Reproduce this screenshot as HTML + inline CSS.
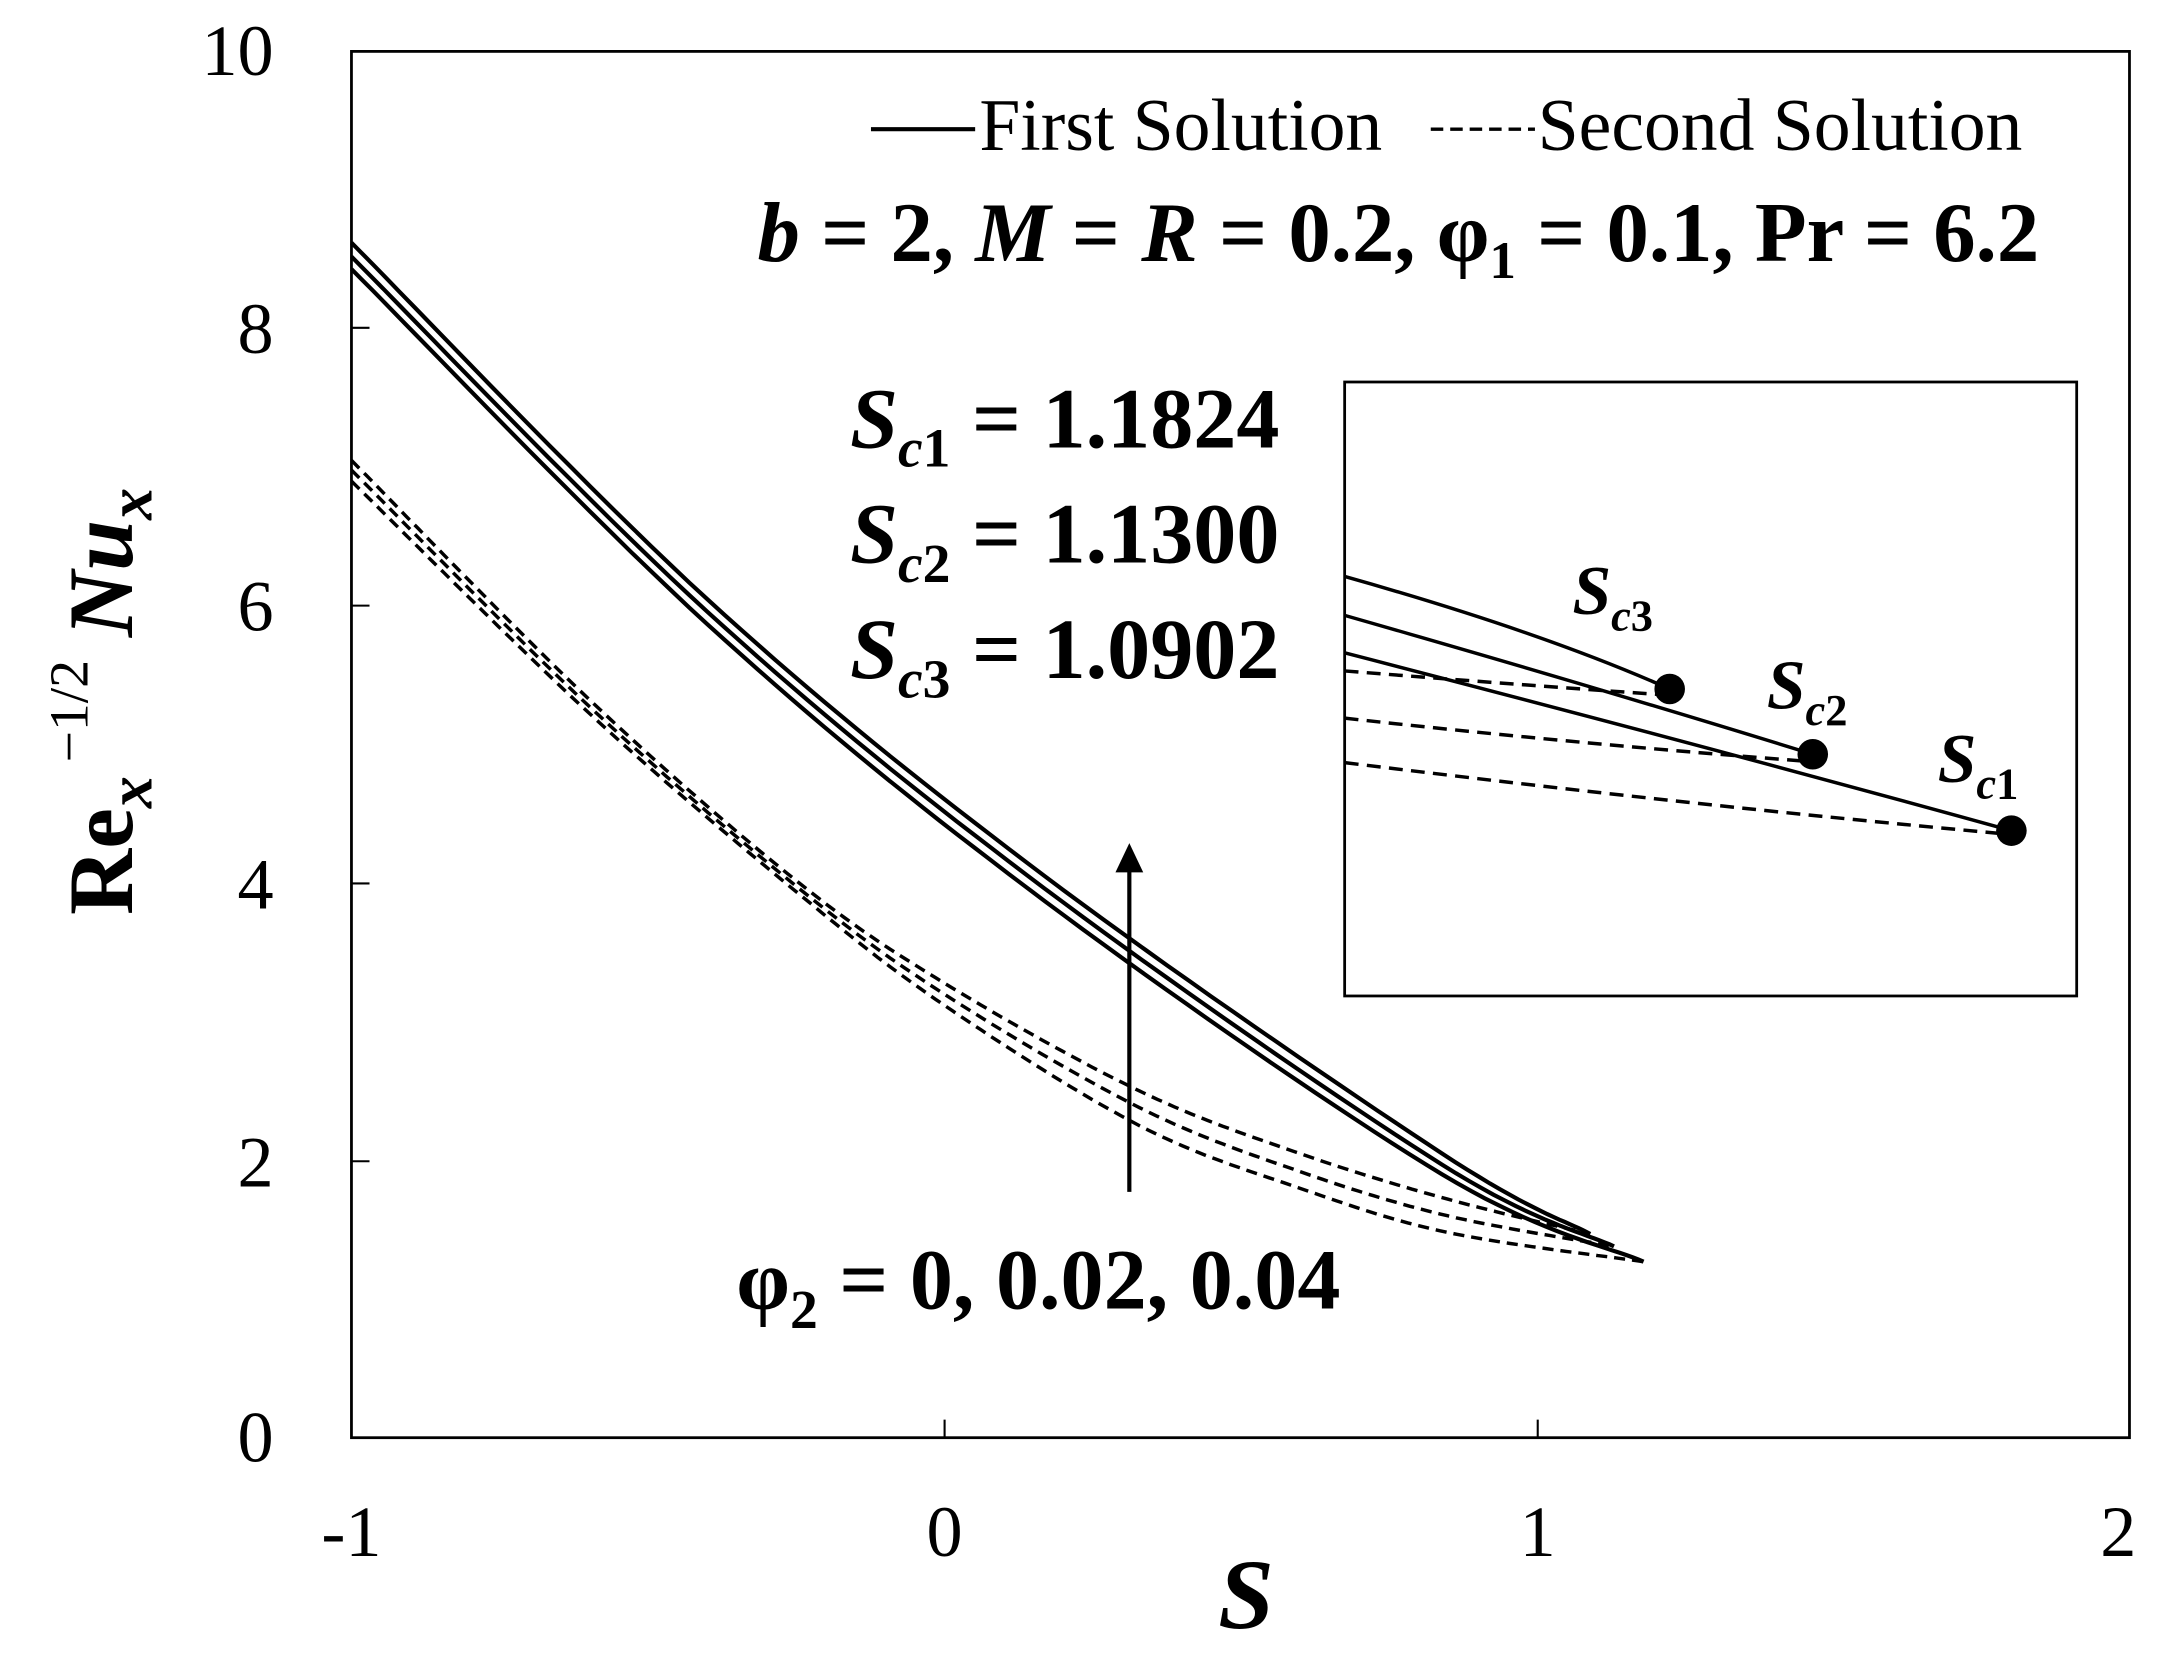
<!DOCTYPE html>
<html><head><meta charset="utf-8"><style>
html,body{margin:0;padding:0;background:#fff}
svg{display:block}
text{font-family:"Liberation Serif",serif;fill:#000}
</style></head><body>
<svg id="s" width="2167" height="1653" viewBox="0 0 1560 1190" xmlns="http://www.w3.org/2000/svg">
<rect x="0" y="0" width="1560" height="1190" fill="#fff"/>
<rect x="253" y="37" width="1280" height="998" fill="none" stroke="#000" stroke-width="2"/>
<g stroke="#000" stroke-width="1.5">
<line x1="680" y1="1035" x2="680" y2="1022"/><line x1="1107" y1="1035" x2="1107" y2="1022"/>
<line x1="253" y1="236" x2="266" y2="236"/><line x1="253" y1="436" x2="266" y2="436"/>
<line x1="253" y1="636" x2="266" y2="636"/><line x1="253" y1="836" x2="266" y2="836"/>
</g>
<g font-size="52" text-anchor="end">
<text x="197" y="54">10</text><text x="197" y="254">8</text><text x="197" y="454">6</text>
<text x="197" y="654">4</text><text x="197" y="854">2</text><text x="197" y="1052">0</text>
</g>
<g font-size="52" text-anchor="middle">
<text x="253" y="1120">-1</text><text x="680" y="1120">0</text><text x="1107" y="1120">1</text><text x="1525" y="1120">2</text>
</g>
<text x="897" y="1172" font-size="72" font-weight="bold" font-style="italic" text-anchor="middle">S</text>
<text transform="translate(95,505) rotate(-90)" font-size="66" font-weight="bold" text-anchor="middle">Re<tspan font-style="italic" font-size="46" dy="14">x</tspan><tspan font-size="40" font-weight="normal" dy="-46"> −1/2</tspan><tspan dy="32" font-style="italic"> Nu</tspan><tspan font-style="italic" font-size="46" dy="14">x</tspan></text>
<line x1="627" y1="93" x2="702" y2="93" stroke="#000" stroke-width="3"/>
<text x="705" y="108" font-size="53">First Solution</text>
<line x1="1030" y1="93" x2="1105" y2="93" stroke="#000" stroke-width="2.5" stroke-dasharray="9,5"/>
<text x="1107" y="108" font-size="53">Second Solution</text>
<text x="1468" y="188" font-size="61" font-weight="bold" text-anchor="end"><tspan font-style="italic">b</tspan> = 2, <tspan font-style="italic">M</tspan> = <tspan font-style="italic">R</tspan> = 0.2, φ<tspan font-size="38" dy="12">1</tspan><tspan dy="-12"> = 0.1, Pr = 6.2</tspan></text>
<g font-size="62" font-weight="bold">
<text x="612" y="322"><tspan font-style="italic">S</tspan><tspan font-style="italic" font-size="40" dy="14">c</tspan><tspan font-size="40">1</tspan><tspan dy="-14"> = 1.1824</tspan></text>
<text x="612" y="405"><tspan font-style="italic">S</tspan><tspan font-style="italic" font-size="40" dy="14">c</tspan><tspan font-size="40">2</tspan><tspan dy="-14"> = 1.1300</tspan></text>
<text x="612" y="488"><tspan font-style="italic">S</tspan><tspan font-style="italic" font-size="40" dy="14">c</tspan><tspan font-size="40">3</tspan><tspan dy="-14"> = 1.0902</tspan></text>
<text x="530" y="942">φ<tspan font-size="40" dy="14">2</tspan><tspan dy="-14"> = 0, 0.02, 0.04</tspan></text>
</g>
<line x1="813" y1="858" x2="813" y2="625" stroke="#000" stroke-width="3"/>
<polygon points="813,607 803,628 823,628" fill="#000"/>
<g id="curves" fill="none" stroke="#000"></g>
<rect x="968" y="275" width="527" height="442" fill="#fff" stroke="#000" stroke-width="2"/>
<g fill="none" stroke="#000" stroke-width="2.5">
<path d="M968,415 Q1110,455 1202,496"/>
<path d="M968,443 Q1150,495 1305,543"/>
<path d="M968,470 Q1220,535 1448,598"/>
</g>
<g fill="none" stroke="#000" stroke-width="2.5" stroke-dasharray="10,6">
<path d="M968,483 Q1080,492 1195,500"/>
<path d="M968,517 Q1130,535 1300,548"/>
<path d="M968,549 Q1220,580 1440,600"/>
</g>
<g fill="#000"><circle cx="1202" cy="496" r="11"/><circle cx="1305" cy="543" r="11"/><circle cx="1448" cy="598" r="11"/></g>
<g font-size="50" font-weight="bold" font-style="italic">
<text x="1132" y="442">S<tspan font-size="32" dy="12">c</tspan><tspan font-size="32" font-style="normal">3</tspan></text>
<text x="1272" y="510">S<tspan font-size="32" dy="12">c</tspan><tspan font-size="32" font-style="normal">2</tspan></text>
<text x="1395" y="563">S<tspan font-size="32" dy="12">c</tspan><tspan font-size="32" font-style="normal">1</tspan></text>
</g>
</svg>
<script>
function X(s){return 253+426.7*(s+1);}
function Y(v){return 1035-99.8*v;}
function cr(pts){var out=[];for(var i=0;i<pts.length-1;i++){var p0=pts[Math.max(0,i-1)],p1=pts[i],p2=pts[i+1],p3=pts[Math.min(pts.length-1,i+2)];for(var t=0;t<1;t+=0.05){var t2=t*t,t3=t2*t;var f=function(a,b,c,d){return 0.5*(2*b+(-a+c)*t+(2*a-5*b+4*c-d)*t2+(-a+3*b-3*c+d)*t3)};out.push([f(p0[0],p1[0],p2[0],p3[0]),f(p0[1],p1[1],p2[1],p3[1])]);}}out.push(pts[pts.length-1]);return out;}
function path(data,dash){var pts=data.map(function(p){return [X(p[0]),Y(p[1])]});var c=cr(pts);var d="M"+c.map(function(p){return p[0].toFixed(1)+","+p[1].toFixed(1)}).join(" L");var e=document.createElementNS("http://www.w3.org/2000/svg","path");e.setAttribute("d",d);e.setAttribute("stroke-width",dash?"2.5":"3");if(dash)e.setAttribute("stroke-dasharray","8,5");document.getElementById("curves").appendChild(e);}
path([[-1,8.62],[-0.4,6.05],[0.17,4.05],[0.84,2.05],[1.09,1.47]]);
path([[-1,8.52],[-0.4,5.96],[0.17,3.96],[0.84,1.97],[1.13,1.38]]);
path([[-1,8.43],[-0.4,5.87],[0.17,3.87],[0.84,1.9],[1.18,1.27]]);
path([[-1,7.05],[-0.6,5.33],[-0.25,4.02],[0.0,3.28],[0.33,2.5],[0.6,2.05],[0.85,1.72],[1.09,1.47]],1);
path([[-1,6.98],[-0.6,5.28],[-0.25,3.98],[0.0,3.2],[0.33,2.38],[0.6,1.92],[0.85,1.6],[1.13,1.38]],1);
path([[-1,6.9],[-0.6,5.23],[-0.25,3.94],[0.0,3.12],[0.33,2.25],[0.6,1.8],[0.85,1.48],[1.18,1.27]],1);
</script>
</body></html>
